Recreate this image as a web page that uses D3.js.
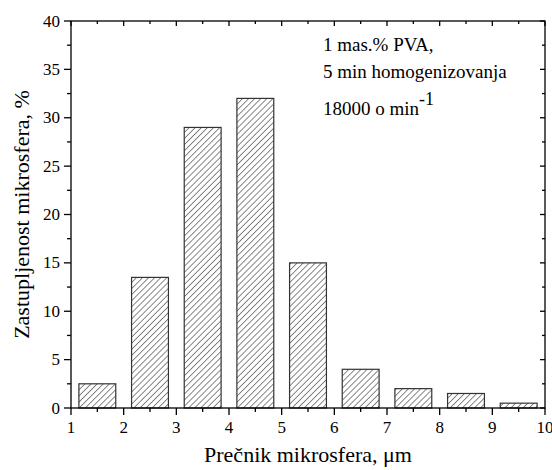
<!DOCTYPE html>
<html><head><meta charset="utf-8">
<script src="https://cdn.jsdelivr.net/npm/d3@7"></script>
<style>body{margin:0;background:#fff}svg{display:block}text{font-family:"Liberation Serif","Times New Roman",serif;fill:#000}</style>
</head><body>
<svg id="c" width="552" height="470"></svg>
<script>
const binCenters = [1.5, 2.5, 3.5, 4.5, 5.5, 6.5, 7.5, 8.5, 9.5];
const shares = [2.5, 13.5, 29, 32, 15, 4, 2, 1.5, 0.5];
const xTicks = [1, 2, 3, 4, 5, 6, 7, 8, 9, 10];
const yTicks = [0, 5, 10, 15, 20, 25, 30, 35, 40];
const xLabel = "Prečnik mikrosfera, μm";
const yLabel = "Zastupljenost mikrosfera, %";
const noteLines = ["1 mas.% PVA,", "5 min homogenizovanja"];

const L = 71, R = 545, T = 21, B = 408;
const svg = d3.select("#c");
const x = d3.scaleLinear().domain([1, 10]).range([L, R]);
const y = d3.scaleLinear().domain([0, 40]).range([B, T]);
const barW = 0.7;

const defs = svg.append("defs");
const pat = defs.append("pattern").attr("id","hatch").attr("patternUnits","userSpaceOnUse")
  .attr("width",4.3).attr("height",4.3).attr("patternTransform","rotate(45)");
pat.append("rect").attr("width",4.3).attr("height",4.3).attr("fill","#fff");
pat.append("line").attr("x1",0).attr("y1",0).attr("x2",0).attr("y2",4.3).attr("stroke","#111").attr("stroke-width",1);

svg.selectAll("rect.bar").data(binCenters).join("rect").attr("class","bar")
  .attr("x", d => x(d - barW/2)).attr("width", d => x(d + barW/2) - x(d - barW/2))
  .attr("y", (d,i) => y(shares[i])).attr("height", (d,i) => y(0) - y(shares[i]))
  .attr("fill","url(#hatch)").attr("stroke","#333").attr("stroke-width",1.2);

const minorX = d3.range(1.5, 10, 1);
const minorY = d3.range(2.5, 40, 5);
const g = svg.append("g").attr("stroke","#000").attr("stroke-width",1.3);
g.append("rect").attr("x",L).attr("y",T).attr("width",R-L).attr("height",B-T).attr("fill","none");
xTicks.forEach(v => {
  g.append("line").attr("x1",x(v)).attr("x2",x(v)).attr("y1",B).attr("y2",B+7);
  g.append("line").attr("x1",x(v)).attr("x2",x(v)).attr("y1",T).attr("y2",T+5);
});
minorX.forEach(v => {
  g.append("line").attr("x1",x(v)).attr("x2",x(v)).attr("y1",B).attr("y2",B+4);
  g.append("line").attr("x1",x(v)).attr("x2",x(v)).attr("y1",T).attr("y2",T+3);
});
yTicks.forEach(v => {
  g.append("line").attr("y1",y(v)).attr("y2",y(v)).attr("x1",L).attr("x2",L-7);
  g.append("line").attr("y1",y(v)).attr("y2",y(v)).attr("x1",R).attr("x2",R-5);
});
minorY.forEach(v => {
  g.append("line").attr("y1",y(v)).attr("y2",y(v)).attr("x1",L).attr("x2",L-4);
  g.append("line").attr("y1",y(v)).attr("y2",y(v)).attr("x1",R).attr("x2",R-3);
});

svg.selectAll("text.xt").data(xTicks).join("text").attr("class","xt")
  .attr("x", d => x(d)).attr("y", B + 25).attr("text-anchor","middle").attr("font-size",17).text(d => d);
svg.selectAll("text.yt").data(yTicks).join("text").attr("class","yt")
  .attr("x", L - 11).attr("y", d => y(d) + 5.5).attr("text-anchor","end").attr("font-size",17).text(d => d);

svg.append("text").attr("x",(L+R)/2).attr("y",462).attr("text-anchor","middle").attr("font-size",22).text(xLabel);
svg.append("text").attr("transform",`translate(28.5,${(T+B)/2}) rotate(-90)`).attr("text-anchor","middle").attr("font-size",22).text(yLabel);

noteLines.forEach((t,i) => svg.append("text").attr("x",323).attr("y",51 + i*26.5).attr("font-size",19).text(t));
const t3 = svg.append("text").attr("x",323).attr("y",115).attr("font-size",19);
t3.append("tspan").text("18000 o min");
t3.append("tspan").attr("dy",-10).attr("font-size",18).text("-1");
</script>
</body></html>
